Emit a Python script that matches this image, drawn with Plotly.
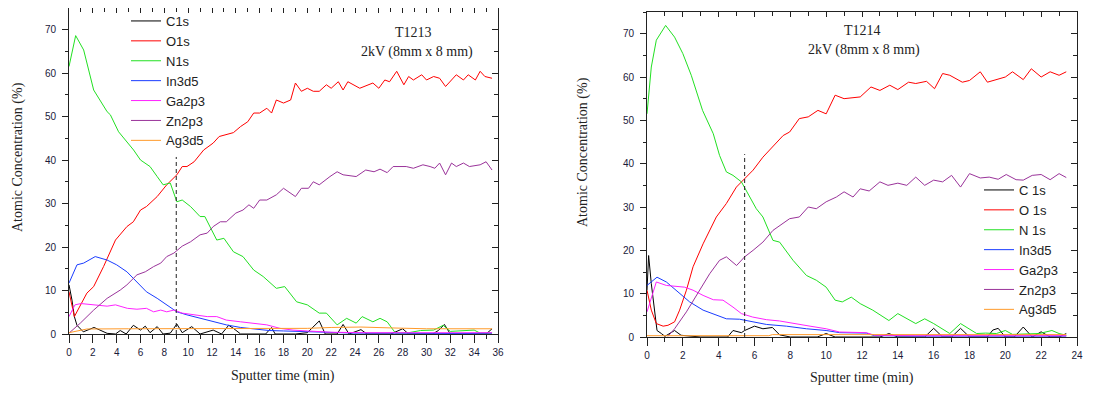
import plotly.graph_objects as go

# ---------------- Left panel (T1213) ----------------
L_C1s_x = [0, 0.25, 0.45, 0.67, 1.2, 2.1, 2.6, 3.2, 3.9, 4.3, 4.8, 5.4, 6.0, 6.4, 6.8, 7.4, 7.9, 8.5, 9.05, 9.5,
           10.3, 11, 12.1, 12.8, 13.4, 13.8, 14.4, 15.5, 16.5, 17, 17.3, 18, 19, 20, 21, 21.5, 22.5, 23, 23.5,
           24.5, 25, 26, 27, 28, 28.5, 29.5, 30.5, 31, 31.5, 32, 33, 34, 35, 35.5]
L_C1s_y = [11.3, 7.8, 4, 2, 0.5, 1.5, 0.9, 0.15, 0, 0.8, 0, 2, 0.9, 1.8, 0.3, 1.7, 0, 0.2, 2.3, 0.3,
           1.7, 0, 0.9, 0, 2, 1.3, 0, 0, 0, 1.5, 0, 0, 0, 0.3, 3, 0, 0, 2.2, 0,
           1, 0, 0, 0, 1.2, 0, 0, 0, 0.8, 2.2, 0, 0, 0, 0, 1.2]

L_O1s_x = [0, 0.45, 1.5, 2.07, 2.9, 3.9, 4.86, 5.4, 6, 6.5, 7.4, 8.2, 9.05, 9.5, 9.9, 10.5, 11.3, 12.1, 12.6, 13.2,
           13.8, 14.4, 15, 15.5, 16, 16.6, 17, 17.4, 18, 18.6, 19, 19.5, 20, 20.5, 21, 21.6, 22, 22.6, 23, 23.4,
           24.4, 25.5, 26, 26.5, 26.9, 27.5, 28.1, 28.5, 28.9, 29.6, 30, 30.6, 31.1, 31.6, 32.5, 33.1, 33.5,
           34.1, 34.5, 34.9, 35.5]
L_O1s_y = [9.7, 4, 9.4, 10.9, 15.5, 21.6, 24.7, 25.8, 28.5, 29.3, 31.6, 34.3, 36.6, 38.5, 38.5, 39.6, 42.3, 43.9, 45.4, 45.8,
           46.3, 47.7, 48.8, 50.8, 50.8, 51.9, 50.8, 53.8, 53.1, 53.8, 57.7, 55.8, 56.5, 55.8, 55.8, 57.3, 56.5, 58, 56.1, 58,
           56.5, 57.7, 56.5, 58.4, 58, 60.4, 57.3, 59.2, 58.4, 59.6, 58.4, 59.2, 58.8, 56.9, 59.6, 58.4, 59.6,
           58.4, 60.4, 59.2, 58.8]

L_N1s_x = [0, 0.56, 1.23, 2.07, 3.2, 3.47, 4.16, 5.42, 6, 6.8, 7.4, 7.9, 8.5, 9.05, 9.5, 10.2, 11, 11.4, 12.4, 13,
           13.8, 14.6, 15.5, 16.3, 17.4, 18.1, 19.1, 20, 21, 21.6, 22.5, 23.3, 24.1, 24.6, 25.5, 26.1, 26.7, 27.4,
           28.5, 29.5, 30.6, 31.4, 32, 33, 34, 34.5, 35.5]
L_N1s_y = [61.5, 68.6, 65.3, 56.1, 51.1, 50.4, 46.5, 42.3, 40, 38.5, 36.2, 34.3, 34.7, 30.4, 30.8, 29.3, 27, 27, 21.6, 22,
           18.9, 17.8, 14.7, 13.2, 10.5, 10.9, 7.4, 6.7, 4.8, 4.8, 2.1, 3.6, 2.5, 4.0, 2.8, 3.6, 2.8, 0.2,
           0.3, 0.8, 0.9, 2.0, 0.6, 0.8, 0.9, 0.2, 0.2]

L_In3d5_x = [0, 0.67, 1.23, 2.2, 3.2, 4, 4.86, 5.7, 6.5, 7.4, 8.2, 9.05, 9.9, 11, 12.1, 13.2, 14.4, 15, 16.8, 18, 20, 22,
             24, 27, 30, 33, 35.5]
L_In3d5_y = [11.7, 15.9, 16.3, 17.8, 17, 15.9, 14.3, 12, 9.7, 8.2, 6.7, 5.1, 4.4, 3.6, 2.8, 2.1, 1.5, 1.3, 0.8, 0.7, 0.5, 0.3,
             0.2, 0.2, 0.1, 0.1, 0.2]

L_Ga2p3_x = [0, 0.5, 1, 2, 3.2, 3.9, 4.9, 5.7, 6.5, 7.1, 7.7, 8.2, 8.8, 9.5, 10.5, 11.6, 12.4, 13.2, 14.4, 15.5, 16.6,
             17.7, 18.8, 20, 22, 25, 30, 35.5]
L_Ga2p3_y = [4, 6.7, 7, 6.8, 6.4, 6.7, 5.9, 5.7, 5.9, 5.1, 5.5, 5.1, 5.5, 4.8, 4.4, 4, 4, 3.2, 2.8, 2.5, 2.1,
             1.3, 0.9, 0.7, 0.4, 0.3, 0.3, 0.3]

L_Zn2p3_x = [0, 0.95, 2.07, 3.2, 4.3, 4.86, 5.7, 6.4, 7.1, 7.7, 8.2, 8.8, 9.5, 10.2, 11, 11.6, 12.1, 12.7, 13.2, 14,
             14.6, 15.1, 15.5, 16, 16.6, 17.4, 18, 18.4, 19, 19.5, 20.1, 20.5, 21, 21.9, 22.5, 23, 24.1, 24.9, 25.6,
             26.1, 26.7, 27.2, 28.3, 28.9, 29.7, 30.3, 30.7, 31.1, 31.6, 32.1, 32.5, 33.1, 33.6, 34.5, 35, 35.5]
L_Zn2p3_y = [0.2, 2.5, 5.5, 8.2, 10.1, 11.3, 13.6, 14.3, 15.5, 16.3, 17.8, 18.6, 20.2, 21.2, 22.8, 23.2, 24.7, 25.8, 25.8, 27.8,
             28.5, 29.7, 28.9, 30.8, 30.8, 32, 33.5, 32.7, 31.6, 33.5, 33.5, 35, 34.3, 36.2, 37.3, 36.6, 36.2, 37.7, 37.3,
             37.9, 37.1, 38.5, 38.5, 38.1, 38.9, 38.5, 38.1, 39.3, 36.6, 39.3, 38.5, 39.3, 38.5, 38.9, 39.6, 37.7]

L_Ag3d5_x = [0, 0.95, 1.5, 5, 10, 15, 20, 22, 24.5, 27, 30, 35.5]
L_Ag3d5_y = [0.3, 0.9, 1.15, 1.2, 1.2, 1.2, 1.3, 1.5, 1.6, 1.4, 1.2, 1.2]

# ---------------- Right panel (T1214) ----------------
R_C1s_x = [0, 0.09, 0.24, 0.43, 0.56, 0.8, 1, 1.54, 1.9, 3, 4.5, 4.8, 5.27, 5.45, 6, 6.47, 7, 7.4, 8, 9.5, 10, 10.5,
           13, 13.5, 14, 15.5, 16, 16.5, 17, 17.5, 18, 19, 19.3, 19.6, 20, 20.5, 21, 21.5, 22, 22.5, 23, 23.4]
R_C1s_y = [10.8, 18.8, 12.3, 5, 1.5, 0.8, 0.15, 1.5, 0.4, 0, 0, 1.5, 1, 1.5, 2.5, 1.9, 2.2, 0.5, 0, 0, 0.8, 0,
           0, 0.8, 0, 0, 2, 0, 0, 2, 0, 0, 1.6, 2, 0, 0, 2.3, 0, 1.2, 0, 0, 0.8]

R_O1s_x = [0, 0.24, 0.52, 0.9, 1.17, 1.54, 1.82, 2.2, 2.57, 3.13, 3.87, 4.43, 4.99, 5.45, 5.92, 6.47, 7.2, 7.6, 7.96,
           8.5, 9, 9.54, 10, 10.5, 11, 11.9, 12.5, 13, 13.55, 14, 14.6, 15, 15.6, 16.05, 16.5, 16.9, 17.6, 18, 18.6,
           19, 20, 20.4, 21, 21.45, 22, 22.5, 23, 23.4]
R_O1s_y = [10.8, 6.2, 3.1, 2.5, 2.7, 3.5, 6.2, 10.8, 16.2, 21.5, 27.7, 30.8, 34.6, 36.5, 38.5, 41.5, 44.6, 46.5, 47.3,
           50.4, 50.8, 52.3, 51.5, 55.8, 55, 55.4, 57.7, 56.9, 58.1, 57.1, 58.8, 58.5, 59, 57.3, 60.8, 60.4, 58.8, 59.2, 61.2,
           58.8, 60, 61.2, 59.4, 61.9, 60, 61.2, 60.4, 61.2]

R_N1s_x = [0, 0.24, 0.52, 1.04, 1.54, 2, 2.47, 3.1, 3.7, 4.05, 4.43, 4.8, 5.27, 5.55, 6.1, 6.47, 7.03, 7.4, 8.15, 8.9,
           9.45, 10, 10.5, 10.9, 11.4, 11.9, 12.6, 13.5, 14, 15, 15.5, 16, 16.9, 17.5, 18.4, 18.9, 19.5, 20, 20.4, 21.9,
           22.6, 23, 23.4]
R_N1s_y = [51.5, 62.3, 68.5, 71.9, 69.2, 65.4, 60.4, 52.3, 46.9, 41.9, 38.1, 37.3, 35.8, 33.8, 29.6, 27.7, 22.3, 21.9, 17.7, 14.2,
           13.1, 11.5, 8.5, 8.1, 9.2, 7.7, 6.2, 3.8, 5.4, 3.1, 4.2, 3.1, 0.8, 3.1, 0.8, 0.9, 0.8, 1.5, 0.6, 0.8,
           1.5, 0.8, 0.4]

R_In3d5_x = [0, 0.56, 1.08, 1.64, 2.38, 3.13, 3.87, 4.43, 5.17, 5.9, 6.66, 7.78, 8.9, 10, 10.75, 12.24, 12.7, 15, 20, 23.4]
R_In3d5_y = [11.9, 13.8, 12.7, 10.8, 8.1, 6.2, 5, 4.2, 4.1, 3.5, 2.9, 2.5, 1.9, 1.5, 1, 0.9, 0.3, 0.2, 0.2, 0.2]

R_Ga2p3_x = [0, 0.52, 1.08, 1.54, 2.1, 2.57, 3.13, 3.7, 4.24, 4.8, 5.27, 5.9, 6.66, 7.4, 8.15, 9.1, 10, 10.75, 12.24,
             12.7, 15, 20, 23.4]
R_Ga2p3_y = [5.8, 12.7, 11.9, 11.7, 11.5, 10.8, 9.6, 8.6, 8.5, 6.9, 5.4, 4.6, 4, 3.7, 3.1, 2.5, 1.9, 1.15, 1,
             0.4, 0.3, 0.3, 0.3]

R_Zn2p3_x = [1.17, 1.54, 2.2, 2.94, 3.5, 4.05, 4.43, 5, 5.45, 5.92, 6.47, 7.03, 7.6, 7.96, 8.5, 9, 9.45, 10, 10.57, 11,
             11.5, 11.9, 12.4, 13, 13.45, 14, 14.5, 15, 15.5, 16, 16.5, 17, 17.5, 18, 18.6, 19.1, 19.6, 20.05, 20.6,
             21, 21.5, 22, 22.5, 23, 23.4]
R_Zn2p3_y = [0.15, 1.9, 5.8, 10.8, 14.6, 17.7, 18.5, 16.5, 18.5, 20, 21.9, 24.6, 26.2, 27.3, 27.7, 30, 29.6, 31.2, 32.3, 33.5,
             32.3, 34.2, 33.7, 35.8, 35, 35.5, 35, 36.9, 35, 36.2, 35.8, 37.3, 34.6, 37.7, 36.7, 36.9, 36.4, 37.5, 36.3,
             36.2, 37.3, 37.5, 36.3, 37.7, 36.8]

R_Ag3d5_x = [0, 3, 6.8, 7.0, 12, 18, 23.4]
R_Ag3d5_y = [0.3, 0.3, 0.3, 0.55, 0.55, 0.55, 0.55]

# Dashed markers (time, top)
L_mark_t, L_mark_top = 9.0, 40.7
R_mark_t, R_mark_top = 5.45, 42.2

left_names = ["C1s", "O1s", "N1s", "In3d5", "Ga2p3", "Zn2p3", "Ag3d5"]
right_names = ["C 1s", "O 1s", "N 1s", "In3d5", "Ga2p3", "Zn2p3", "Ag3d5"]
colors = ["#000000", "#ff0000", "#22e022", "#1a3cff", "#ff22ff", "#9a339a", "#ff9a2a"]

left_series = [(L_C1s_x, L_C1s_y), (L_O1s_x, L_O1s_y), (L_N1s_x, L_N1s_y), (L_In3d5_x, L_In3d5_y),
               (L_Ga2p3_x, L_Ga2p3_y), (L_Zn2p3_x, L_Zn2p3_y), (L_Ag3d5_x, L_Ag3d5_y)]
right_series = [(R_C1s_x, R_C1s_y), (R_O1s_x, R_O1s_y), (R_N1s_x, R_N1s_y), (R_In3d5_x, R_In3d5_y),
                (R_Ga2p3_x, R_Ga2p3_y), (R_Zn2p3_x, R_Zn2p3_y), (R_Ag3d5_x, R_Ag3d5_y)]

fig = go.Figure()
for i, (x, y) in enumerate(left_series):
    fig.add_trace(go.Scatter(x=x, y=y, mode="lines", name=left_names[i], line=dict(color=colors[i], width=1),
                             xaxis="x", yaxis="y", legend="legend"))
for i, (x, y) in enumerate(right_series):
    fig.add_trace(go.Scatter(x=x, y=y, mode="lines", name=right_names[i], line=dict(color=colors[i], width=1),
                             xaxis="x2", yaxis="y2", legend="legend2"))
# empty traces so that the mirrored (inside-tick) frame axes exist
fig.add_trace(go.Scatter(x=[], y=[], xaxis="x3", yaxis="y3", showlegend=False, hoverinfo="skip"))
fig.add_trace(go.Scatter(x=[], y=[], xaxis="x4", yaxis="y4", showlegend=False, hoverinfo="skip"))

tickfont = dict(family="Liberation Sans, Arial", size=10, color="#1a1a3a")
titlefont = dict(family="Liberation Serif, Times New Roman", size=14, color="#222")
TC = "#222"

def xax(domain, rng, anchor):
    return dict(domain=domain, range=rng, anchor=anchor, dtick=2, ticks="outside", ticklen=8, tickcolor=TC,
                mirror=True, showline=True, linecolor=TC, linewidth=1, showgrid=False, zeroline=False,
                tickfont=tickfont, automargin=False, ticklabelstandoff=1,
                minor=dict(dtick=1, ticks="outside", ticklen=4, tickcolor=TC))

def yax(domain, rng, anchor):
    return dict(domain=domain, range=rng, anchor=anchor, dtick=10, ticks="outside", ticklen=6, tickcolor=TC,
                mirror=True, showline=True, linecolor=TC, linewidth=1, showgrid=False, zeroline=False,
                tickfont=tickfont, automargin=False, ticklabelstandoff=4,
                minor=dict(dtick=5, ticks="outside", ticklen=3, tickcolor=TC))

def xtop(over, rng, anchor):
    return dict(overlaying=over, range=rng, anchor=anchor, side="top", dtick=2, ticks="inside", ticklen=5,
                tickcolor=TC, showticklabels=False, showline=False, showgrid=False, zeroline=False,
                automargin=False, minor=dict(dtick=1, ticks="inside", ticklen=4, tickcolor=TC))

def yright(over, rng, anchor):
    return dict(overlaying=over, range=rng, anchor=anchor, side="right", dtick=10, ticks="inside", ticklen=6,
                tickcolor=TC, showticklabels=False, showline=False, showgrid=False, zeroline=False,
                automargin=False, minor=dict(dtick=5, ticks="inside", ticklen=4, tickcolor=TC))

# The page body has an 8px margin; work in screen pixels and convert.
OFF = 8
W, H = 1090, 386
def rx(v):
    return (v - OFF) / W
def ry(v):
    return 1 - (v - OFF) / H
def px(v):
    return min(max(rx(v), 0), 1)
def py(v):
    return min(max(ry(v), 0), 1)

L_XR, L_YR = [0, 36], [0, 74.95]
R_XR, R_YR = [0, 24], [0, 75]

legfont = dict(family="Liberation Sans, Arial", size=13, color="#222")
fig.update_layout(
    width=W, height=H, margin=dict(l=0, r=0, t=0, b=0, autoexpand=False),
    paper_bgcolor="white", plot_bgcolor="white",
    xaxis=xax([px(69), px(498)], L_XR, "y"),
    yaxis=yax([py(334), py(8)], L_YR, "x"),
    xaxis2=xax([px(647), px(1077)], R_XR, "y2"),
    yaxis2=yax([py(337), py(12)], R_YR, "x2"),
    xaxis3=xtop("x", L_XR, "y3"),
    yaxis3=yright("y", L_YR, "x3"),
    xaxis4=xtop("x2", R_XR, "y4"),
    yaxis4=yright("y2", R_YR, "x4"),
    legend=dict(x=rx(126), y=ry(6), xanchor="left", yanchor="top", bgcolor="rgba(0,0,0,0)",
                font=legfont, tracegroupgap=0),
    legend2=dict(x=rx(979), y=ry(175), xanchor="left", yanchor="top", bgcolor="rgba(0,0,0,0)",
                 font=legfont, tracegroupgap=0),
    showlegend=True,
)

fig.add_shape(type="line", xref="x", yref="y", x0=L_mark_t, x1=L_mark_t, y0=0, y1=L_mark_top,
              line=dict(color="#222", width=1, dash="4px,3px"))
fig.add_shape(type="line", xref="x2", yref="y2", x0=R_mark_t, x1=R_mark_t, y0=0, y1=R_mark_top,
              line=dict(color="#222", width=1, dash="4px,3px"))

ann_font = dict(family="Liberation Serif, Times New Roman", size=14, color="#222")
def pa(text, x, y, angle=0, font=ann_font):
    fig.add_annotation(text=text, x=px(x), y=py(y), xref="paper", yref="paper", showarrow=False,
                       font=font, textangle=angle, xanchor="center", yanchor="middle")

pa("T1213", 413, 32)
pa("2kV (8mm x 8 mm)", 417, 52)
pa("T1214", 862, 31)
pa("2kV (8mm x 8 mm)", 864, 50)
pa("Atomic Concentration (%)", 18, 157, -90, titlefont)
pa("Atomic Concentration (%)", 583, 152, -90, titlefont)
pa("Sputter time (min)", 283, 376, 0, titlefont)
pa("Sputter time (min)", 862, 378, 0, titlefont)

fig.write_html("out.html")
